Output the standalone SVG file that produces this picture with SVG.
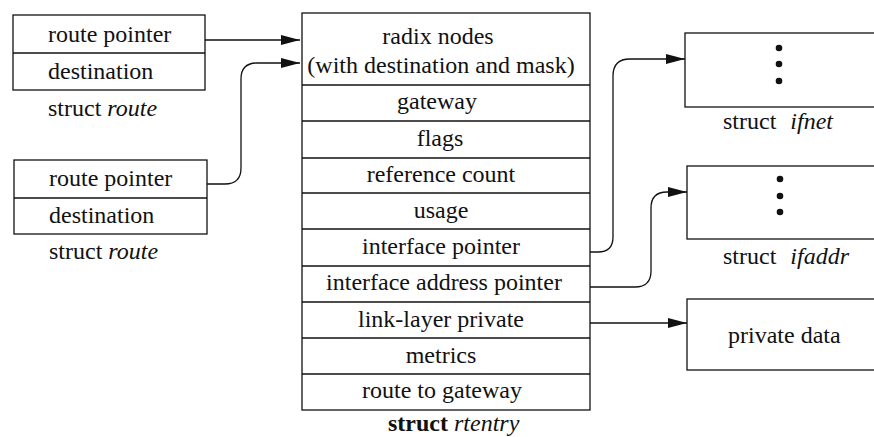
<svg xmlns="http://www.w3.org/2000/svg" width="874" height="437" viewBox="0 0 874 437">
<style>
.box{fill:#fff;stroke:#111;stroke-width:1.3}
.ln{stroke:#111;stroke-width:1.3;fill:none}
.t{font-family:"Liberation Serif","Times New Roman",serif;font-size:24px;fill:#111}
.c{text-anchor:middle}
.i{font-style:italic}
.b{font-weight:bold}
.dot{fill:#111}
</style>
<defs>
<marker id="arr" markerUnits="userSpaceOnUse" viewBox="0 0 19 10" refX="19" refY="5" markerWidth="19" markerHeight="10" orient="auto">
<path d="M0,0 L19,5 L0,10 z" fill="#111"/>
</marker>
</defs>
<rect width="874" height="437" fill="#fff"/>

<g id="route1">
<rect class="box" x="13" y="15" width="192" height="75"/>
<line class="ln" x1="13" y1="53" x2="205" y2="53"/>
<text class="t" x="48" y="42">route pointer</text>
<text class="t" x="48" y="79">destination</text>
<text class="t" x="48" y="116">struct <tspan class="i">route</tspan></text>
</g>

<g id="route2">
<rect class="box" x="14" y="160" width="193" height="74"/>
<line class="ln" x1="14" y1="198" x2="207" y2="198"/>
<text class="t" x="49" y="186">route pointer</text>
<text class="t" x="49" y="223">destination</text>
<text class="t" x="49" y="259">struct <tspan class="i">route</tspan></text>
</g>

<g id="rtentry">
<rect class="box" x="302" y="13" width="288" height="397"/>
<g class="ln">
<line x1="302" y1="85" x2="590" y2="85"/>
<line x1="302" y1="121" x2="590" y2="121"/>
<line x1="302" y1="158" x2="590" y2="158"/>
<line x1="302" y1="193" x2="590" y2="193"/>
<line x1="302" y1="229" x2="590" y2="229"/>
<line x1="302" y1="266" x2="590" y2="266"/>
<line x1="302" y1="302" x2="590" y2="302"/>
<line x1="302" y1="338" x2="590" y2="338"/>
<line x1="302" y1="374" x2="590" y2="374"/>
</g>
<text class="t c" x="438" y="44">radix nodes</text>
<text class="t c" x="441" y="73">(with destination and mask)</text>
<text class="t c" x="437" y="109">gateway</text>
<text class="t c" x="440" y="146">flags</text>
<text class="t c" x="441" y="182">reference count</text>
<text class="t c" x="441" y="218">usage</text>
<text class="t c" x="441" y="254">interface pointer</text>
<text class="t c" x="444" y="290">interface address pointer</text>
<text class="t c" x="441" y="327">link-layer private</text>
<text class="t c" x="441" y="363">metrics</text>
<text class="t c" x="442" y="398">route to gateway</text>
<text class="t" x="388" y="431"><tspan class="b">struct</tspan> <tspan class="i">rtentry</tspan></text>
</g>

<g id="ifnet">
<rect class="box" x="685" y="33" width="200" height="74"/>
<circle class="dot" cx="779" cy="48" r="3.3"/>
<circle class="dot" cx="779" cy="64" r="3.3"/>
<circle class="dot" cx="779" cy="81" r="3.3"/>
<text class="t" x="723" y="129">struct <tspan class="i" dx="8">ifnet</tspan></text>
</g>

<g id="ifaddr">
<rect class="box" x="687" y="166" width="200" height="73"/>
<circle class="dot" cx="780" cy="179" r="3.3"/>
<circle class="dot" cx="780" cy="196" r="3.3"/>
<circle class="dot" cx="780" cy="212" r="3.3"/>
<text class="t" x="723" y="264">struct <tspan class="i" dx="8">ifaddr</tspan></text>
</g>

<g id="private">
<rect class="box" x="687" y="299" width="200" height="71"/>
<text class="t" x="728" y="343">private data</text>
</g>

<g id="connectors" class="ln">
<path d="M205,40 H300" marker-end="url(#arr)"/>
<path d="M207,184 H225 Q241,184 241,168 V79 Q241,63 257,63 H300" marker-end="url(#arr)"/>
<path d="M590,252 H598 Q613,252 613,237 V76 Q613,59 630,59 H685" marker-end="url(#arr)"/>
<path d="M590,287 H635 Q651,287 651,271 V208 Q651,192 667,192 H687" marker-end="url(#arr)"/>
<path d="M590,323 H687" marker-end="url(#arr)"/>
</g>
</svg>
